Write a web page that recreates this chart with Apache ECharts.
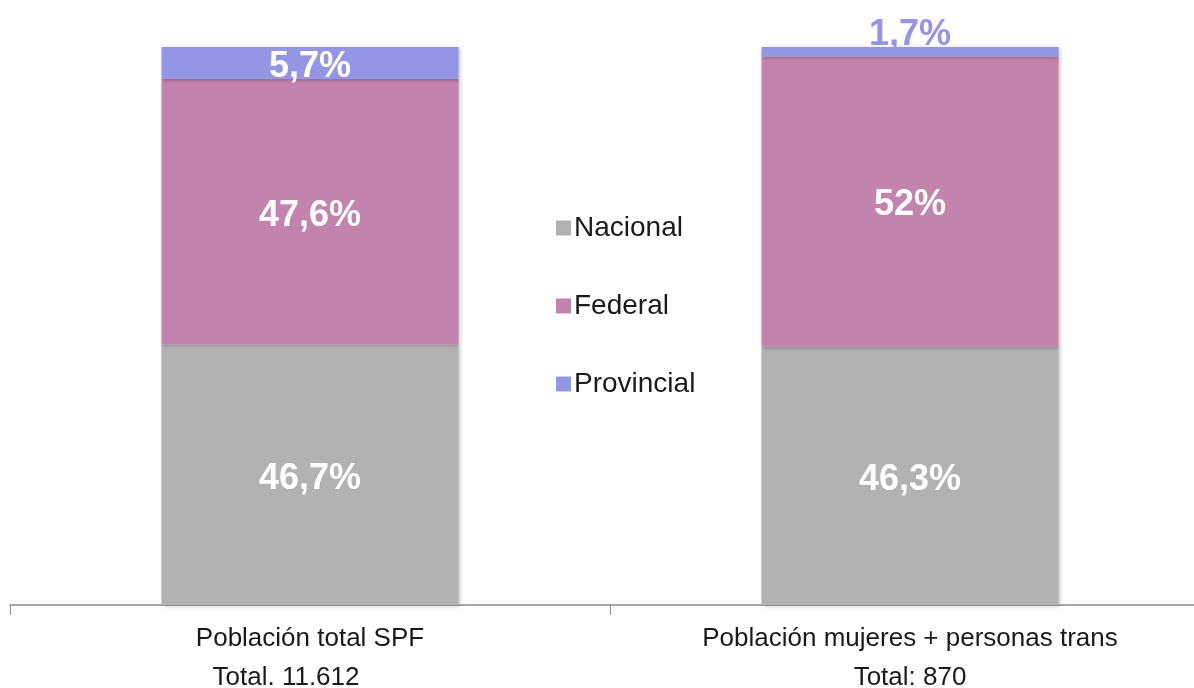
<!DOCTYPE html>
<html lang="es">
<head>
  <meta charset="UTF-8">
  <title>Población SPF</title>
  <style>
    html, body { height: 100%; width: 100%; margin: 0; padding: 0; background: #fff; }
  </style>
  <script src="https://cdn.jsdelivr.net/npm/echarts@6/dist/echarts.min.js"></script>
</head>
<body>
<div id="main" style="width: 1194px; height: 688px;"></div>
<script>
  // datos
  var categorias = ['Población total SPF', 'Población mujeres + personas trans'];
  var totales = ['Total. 11.612', 'Total: 870'];
  var nacional = [46.7, 46.3];
  var federal = [47.6, 52];
  var provincial = [5.7, 1.7];

  var colores = { nacional: '#b2b2b2', federal: '#c283ad', provincial: '#9595e6' };

  function pct(p) {
    return String(p.value).replace('.', ',') + '%';
  }

  var myChart = echarts.init(document.getElementById('main'));

  var etiquetaBlanca = {
    show: true,
    position: 'inside',
    offset: [0, 4],
    color: '#fff',
    fontSize: 36,
    fontWeight: 'bold',
    fontFamily: 'Liberation Sans, Arial, sans-serif',
    formatter: pct
  };

  var sombra = { shadowBlur: 4, shadowColor: 'rgba(0,0,0,0.25)', shadowOffsetX: 1, shadowOffsetY: 1 };

  var option = {
    animation: false,
    textStyle: { fontFamily: 'Liberation Sans, Arial, sans-serif' },
    grid: { left: 10, right: -16, top: 47, bottom: 83, outerBoundsMode: 'none', containLabel: false },
    legend: {
      orient: 'vertical',
      left: 551,
      top: 209,
      itemWidth: 15,
      itemHeight: 15,
      itemGap: 50,
      icon: 'rect',
      textStyle: { fontSize: 28, color: '#1a1a1a', padding: [0, 0, 0, -2] },
      data: ['Nacional', 'Federal', 'Provincial']
    },
    xAxis: {
      type: 'category',
      data: categorias,
      axisLine: { lineStyle: { color: '#8c8c8c', width: 1.5 } },
      axisTick: { show: true, length: 10, lineStyle: { color: '#8c8c8c' } },
      axisLabel: {
        interval: 0,
        margin: 14,
        color: '#1a1a1a',
        formatter: function (valor, i) {
          return '{a|' + valor + '}\n{b' + i + '|' + totales[i] + '}';
        },
        rich: {
          a: { fontSize: 26, lineHeight: 39, color: '#1a1a1a' },
          b0: { fontSize: 26, lineHeight: 39, color: '#1a1a1a', padding: [0, 48, 0, 0] },
          b1: { fontSize: 26, lineHeight: 39, color: '#1a1a1a' }
        }
      }
    },
    yAxis: { type: 'value', min: 0, max: 100, show: false },
    series: [
      {
        name: 'Nacional', type: 'bar', stack: 'total', barWidth: '49.5%',
        data: nacional,
        itemStyle: Object.assign({ color: colores.nacional }, sombra),
        label: etiquetaBlanca
      },
      {
        name: 'Federal', type: 'bar', stack: 'total', barWidth: '49.5%',
        data: federal,
        itemStyle: Object.assign({ color: colores.federal }, sombra),
        label: etiquetaBlanca
      },
      {
        name: 'Provincial', type: 'bar', stack: 'total', barWidth: '49.5%',
        data: provincial.map(function (v, i) {
          if (i === 1) {
            return { value: v, label: { position: 'top', distance: 0, offset: [0, 6], color: colores.provincial } };
          }
          return v;
        }),
        itemStyle: Object.assign({ color: colores.provincial }, sombra),
        label: etiquetaBlanca
      }
    ]
  };

  myChart.setOption(option);
</script>
</body>
</html>
